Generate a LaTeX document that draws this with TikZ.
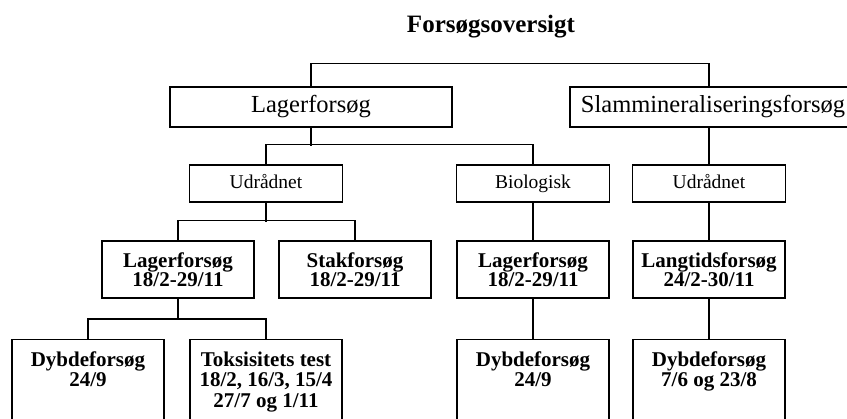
\documentclass[tikz,border=0pt]{standalone}
\usepackage{fontspec}
\setmainfont{Liberation Serif}
\usetikzlibrary{positioning}

% text of the open boxes at the bottom, set from the top
\newcommand{\toptext}[1]{\parbox[t][90pt][t]{152pt}{\centering #1}}

\tikzset{
  box/.style={draw, line width=1.4pt, align=center, inner xsep=0pt, inner ysep=0pt},
  bigbox/.style={box, minimum width=282pt, minimum height=40pt, text height=17pt, text depth=5pt, font=\fontsize{24.5}{26}\selectfont},
  midbox/.style={box, minimum width=153pt, minimum height=37pt, text height=14pt, text depth=4pt, font=\fontsize{19.5}{21}\selectfont},
  datebox/.style={box, minimum width=152pt, minimum height=57pt, font=\fontsize{21}{19}\selectfont\bfseries},
  testbox/.style={box, anchor=north, inner ysep=12pt, font=\fontsize{21}{20.5}\selectfont\bfseries},
  link/.style={line width=1.2pt},
}

\begin{document}
\begin{tikzpicture}[x=1pt, y=-1pt]
    \useasboundingbox (0,0) rectangle (847,419);

    \node[font=\fontsize{25}{27}\selectfont\bfseries] (t) at (491,27) {Forsøgsoversigt};

    \node[bigbox] (11) at (311,107) {Lagerforsøg};
    \node[bigbox, minimum width=286pt] (12) at (713,107) {Slammineraliseringsforsøg};

    \node[midbox] (21) at (266,183.5) {Udrådnet};
    \node[midbox] (22) at (533,183.5) {Biologisk};
    \node[midbox] (23) at (709,183.5) {Udrådnet};

    \node[datebox] (31) at (178,269.5) {Lagerforsøg\\18/2-29/11};
    \node[datebox] (32) at (355,269.5) {Stakforsøg\\18/2-29/11};
    \node[datebox] (33) at (533,269.5) {Lagerforsøg\\18/2-29/11};
    \node[datebox] (34) at (709,269.5) {Langtidsforsøg\\24/2-30/11};

    \node[testbox] (41) at (88,339) {\toptext{Dybdeforsøg\\24/9}};
    \node[testbox] (42) at (266,339) {\toptext{Toksisitets test\\18/2, 16/3, 15/4\\27/7 og 1/11}};
    \node[testbox] (43) at (533,339) {\toptext{Dybdeforsøg\\24/9}};
    \node[testbox] (44) at (709,339) {\toptext{Dybdeforsøg\\7/6 og 23/8}};

    % top level
    \draw[link] (11.north) -- ++(0,-23) -| (23 |- 12.north);

    % under Lagerforsøg
    \draw[link] (11.south) -- ++(0,18);
    \draw[link] (21.north) -- ++(0,-20) -| (22.north);
    \draw[link] (23 |- 12.south) -- (23.north);

    % third row
    \draw[link] (21.south) -- ++(0,19);
    \draw[link] (31.north) -- ++(0,-20) -| (32.north);
    \draw[link] (22.south) -- (33.north);
    \draw[link] (23.south) -- (34.north);

    % bottom row
    \draw[link] (31.south) -- ++(0,21);
    \draw[link] (41.north) -- ++(0,-20) -| (42.north);
    \draw[link] (33.south) -- (43.north);
    \draw[link] (34.south) -- (44.north);
\end{tikzpicture}
\end{document}
